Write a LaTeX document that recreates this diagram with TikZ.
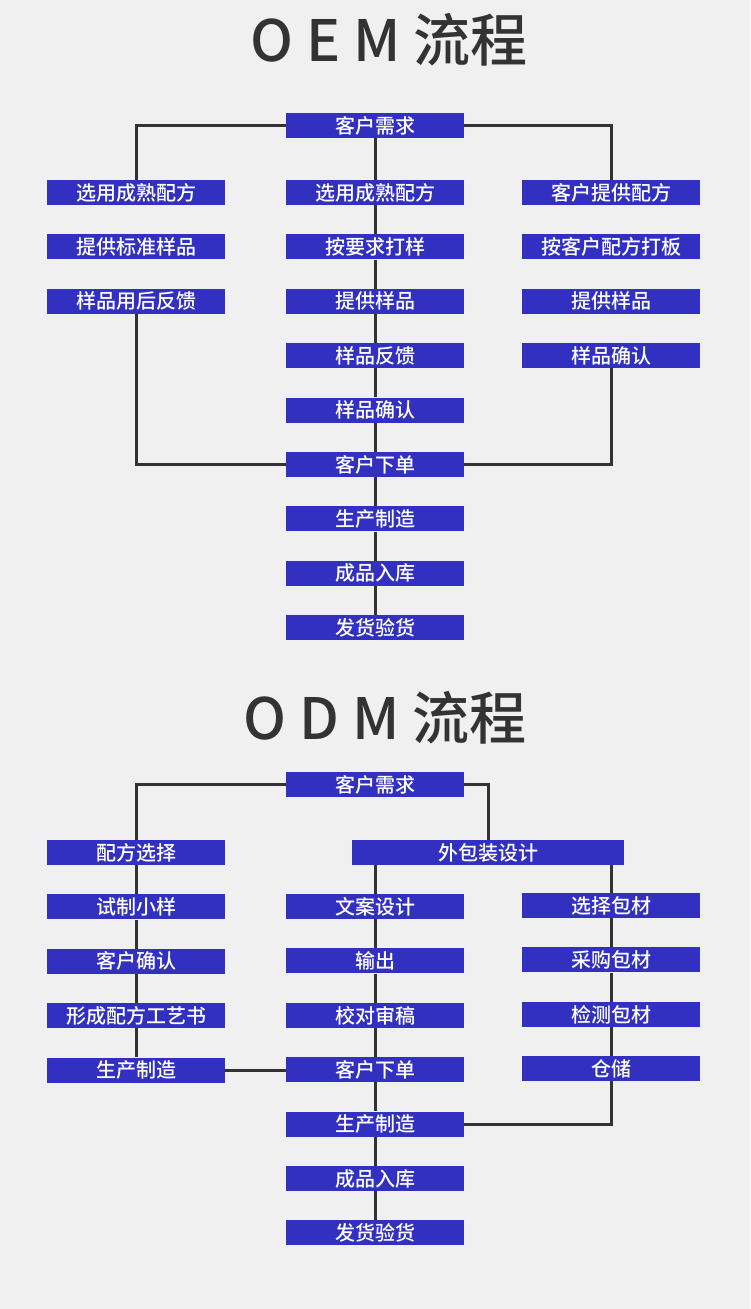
\documentclass[tikz,border=0pt]{standalone}
\usepackage{fontspec}
\newfontfamily\cjk{Noto Sans CJK SC}
\newfontfamily\cjkmed{Noto Sans CJK SC Medium}
\definecolor{boxblue}{RGB}{49,48,192}
\definecolor{pagegray}{RGB}{240,240,240}
\definecolor{inkgray}{RGB}{51,51,51}
\tikzset{
  stepbox/.style={rectangle, fill=boxblue, text=white, inner sep=0pt,
    minimum width=178pt, minimum height=25pt, font=\cjkmed\fontsize{20}{20}\selectfont},
  widebox/.style={stepbox, minimum width=272pt},
  headline/.style={text=inkgray, font=\cjkmed\fontsize{57}{57}\selectfont},
  link/.style={draw=inkgray, line width=3pt}
}
\begin{document}
\begin{tikzpicture}[x=1pt, y=-1pt]

    \def \lx {136}  % left column
    \def \cx {375}  % middle column
    \def \rx {611}  % right column
    \def \dy {54.4} % row distance
    % page
    \fill[pagegray] (0,0) rectangle (750,1309);
    \useasboundingbox (0,0) rectangle (750,1309);

    % OEM part
    \node[headline] (oemtitle) at (389,40) {O E M 流程};
    \node[stepbox] (oreq) at (\cx,125.5) {客户需求};
    \foreach \t [count=\i] in {选用成熟配方,提供标准样品,样品用后反馈}
      \node[stepbox] (ol\i) at (\lx,{192.5+\dy*(\i-1)}) {\t};
    \foreach \t [count=\i] in {选用成熟配方,按要求打样,提供样品,样品反馈,样品确认,
      客户下单,生产制造,成品入库,发货验货}
      \node[stepbox] (oc\i) at (\cx,{192.5+\dy*(\i-1)}) {\t};
    \foreach \t [count=\i] in {客户提供配方,按客户配方打板,提供样品,样品确认}
      \node[stepbox] (or\i) at (\rx,{192.5+\dy*(\i-1)}) {\t};

    % OEM links
    \draw[link] (oreq) -- (oc1);
    \foreach \i [evaluate=\i as \j using int(\i+1)] in {1,...,8}
      \draw[link] (oc\i) -- (oc\j);
    \draw[link] (oreq.west) -| (ol1.north);
    \draw[link] (oreq.east) -| (or1.north);
    \draw[link] (ol3.south) |- (oc6.west);
    \draw[link] (or4.south) |- (oc6.east);

    % ODM part
    \node[headline] (odmtitle) at (385,718) {O D M 流程};
    \node[stepbox] (dreq) at (\cx,784.5) {客户需求};
    \node[widebox] (dpack) at (488,852.5) {外包装设计};
    \foreach \t [count=\i] in {配方选择,试制小样,客户确认,形成配方工艺书,生产制造}
      \node[stepbox] (dl\i) at (\lx,{852.5+\dy*(\i-1)}) {\t};
    \foreach \t [count=\i] in {文案设计,输出,校对审稿,客户下单,生产制造,成品入库,发货验货}
      \node[stepbox] (dc\i) at (\cx,{906.5+\dy*(\i-1)}) {\t};
    \foreach \t [count=\i] in {选择包材,采购包材,检测包材,仓储}
      \node[stepbox] (dr\i) at (\rx,{905.5+\dy*(\i-1)}) {\t};

    % ODM links
    \draw[link] (dreq.west) -| (dl1.north);
    \draw[link] (dreq.east) -| (dpack.north);
    \foreach \i [evaluate=\i as \j using int(\i+1)] in {1,...,4}
      \draw[link] (dl\i) -- (dl\j);
    \draw[link] (dpack.south -| dc1.north) -- (dc1.north);
    \foreach \i [evaluate=\i as \j using int(\i+1)] in {1,...,6}
      \draw[link] (dc\i) -- (dc\j);
    \draw[link] (dpack.south -| dr1.north) -- (dr1.north);
    \foreach \i [evaluate=\i as \j using int(\i+1)] in {1,...,3}
      \draw[link] (dr\i) -- (dr\j);
    \draw[link] (dl5.east) -- (dl5.east -| dc4.west);
    \draw[link] (dr4.south) |- (dc5.east);
  \end{tikzpicture}
\end{document}
